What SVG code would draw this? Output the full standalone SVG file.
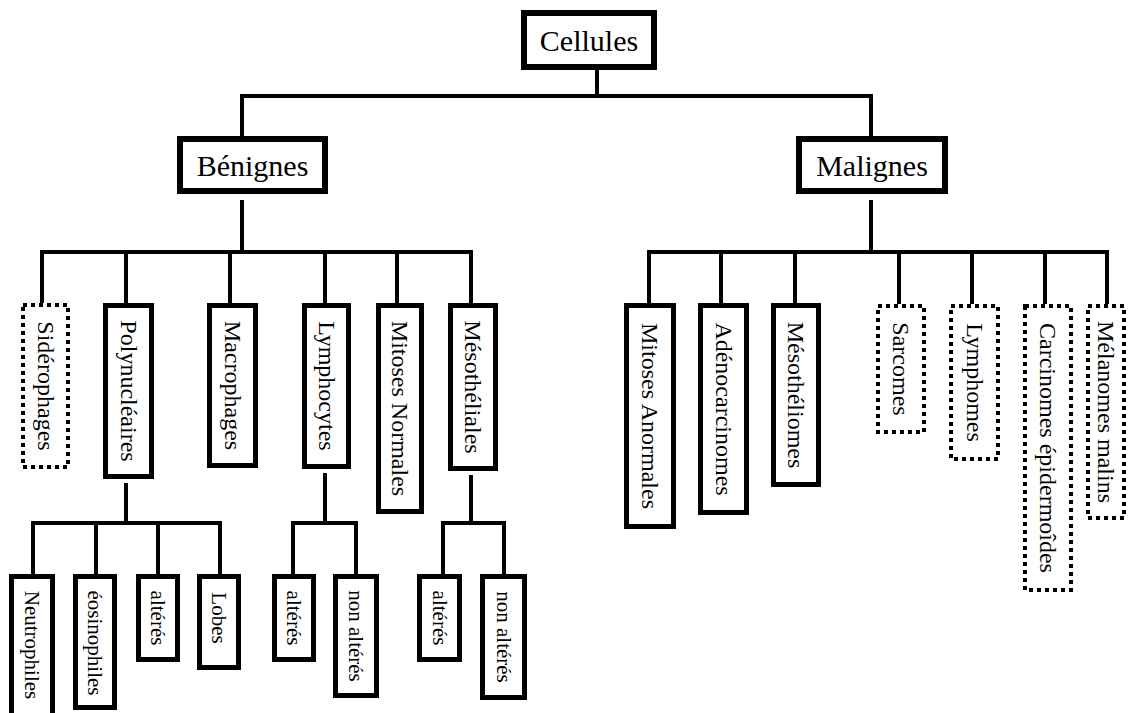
<svg xmlns="http://www.w3.org/2000/svg" width="1128" height="713" viewBox="0 0 1128 713">
<style>
.bg{fill:#fff}
.top rect{fill:#fff;stroke:#000;stroke-width:6}
.solid{fill:#fff;stroke:#000;stroke-width:5}
.dot{fill:#fff;stroke:#000;stroke-width:4;stroke-dasharray:4 4}
.t1{font-family:"Liberation Serif","Times New Roman",serif;font-size:30px;fill:#000;text-anchor:middle;dominant-baseline:central}
.t2{font-family:"Liberation Serif","Times New Roman",serif;font-size:24px;fill:#000;text-anchor:middle;dominant-baseline:central}
.t3{font-family:"Liberation Serif","Times New Roman",serif;font-size:21px;fill:#000;text-anchor:middle;dominant-baseline:central}
#connectors path{fill:none;stroke:#000;stroke-width:4;stroke-linejoin:miter;stroke-linecap:butt}
</style>
<rect class="bg" x="0" y="0" width="1128" height="713"/>
<g id="connectors">
<path d="M597,70 V96"/>
<path d="M242,136 V96 H871 V136"/>
<path d="M242,200 V252"/>
<path d="M42,303 V252 H471 V303"/>
<path d="M126,252 V303"/>
<path d="M230,252 V303"/>
<path d="M325,252 V303"/>
<path d="M397,252 V303"/>
<path d="M871,200 V252"/>
<path d="M649,304 V252 H1107 V304"/>
<path d="M721,252 V304"/>
<path d="M795,252 V304"/>
<path d="M899,252 V304"/>
<path d="M972,252 V304"/>
<path d="M1045,252 V304"/>
<path d="M126,483 V523"/>
<path d="M33,574 V523 H220 V574"/>
<path d="M96,523 V574"/>
<path d="M158,523 V574"/>
<path d="M325,473 V523"/>
<path d="M293,574 V523 H356 V574"/>
<path d="M471,475 V523"/>
<path d="M443,574 V523 H504 V574"/>
</g>
<g id="cellules" class="top"><rect x="524" y="13" width="130" height="54"/><text class="t1" x="589" y="40">Cellules</text></g>
<g id="benignes" class="top"><rect x="180" y="139" width="145" height="52"/><text class="t1" x="252.5" y="165">Bénignes</text></g>
<g id="malignes" class="top"><rect x="799" y="139" width="146" height="52"/><text class="t1" x="872" y="165">Malignes</text></g>

<g id="siderophages"><rect class="dot" x="23" y="305" width="45" height="162"/><text class="t2" transform="translate(45.5,386) rotate(90)">Sidérophages</text></g>
<g id="polynucleaires"><rect class="solid" x="105.5" y="305.5" width="46" height="171"/><text class="t2" transform="translate(128.5,391) rotate(90)">Polynucléaires</text></g>
<g id="macrophages"><rect class="solid" x="209.5" y="305.5" width="46" height="160"/><text class="t2" transform="translate(232.5,385.5) rotate(90)">Macrophages</text></g>
<g id="lymphocytes"><rect class="solid" x="304.5" y="305.5" width="44" height="161"/><text class="t2" transform="translate(326.5,386) rotate(90)">Lymphocytes</text></g>
<g id="mitoses-normales"><rect class="solid" x="378.5" y="305.5" width="43" height="206"/><text class="t2" transform="translate(400,408.5) rotate(90)">Mitoses Normales</text></g>
<g id="mesotheliales"><rect class="solid" x="450.5" y="305.5" width="45" height="163"/><text class="t2" transform="translate(473,387) rotate(90)">Mésothéliales</text></g>

<g id="mitoses-anormales"><rect class="solid" x="626.5" y="305.5" width="47" height="221"/><text class="t2" transform="translate(650,416) rotate(90)">Mitoses Anormales</text></g>
<g id="adenocarcinomes"><rect class="solid" x="700.5" y="305.5" width="46" height="207"/><text class="t2" transform="translate(723.5,409) rotate(90)">Adénocarcinomes</text></g>
<g id="mesotheliomes"><rect class="solid" x="773.5" y="305.5" width="45" height="179"/><text class="t2" transform="translate(796,395) rotate(90)">Mésothéliomes</text></g>
<g id="sarcomes"><rect class="dot" x="878" y="306" width="46" height="126"/><text class="t2" transform="translate(901,369) rotate(90)">Sarcomes</text></g>
<g id="lymphomes"><rect class="dot" x="951" y="306" width="47" height="153"/><text class="t2" transform="translate(974.5,382.5) rotate(90)">Lymphomes</text></g>
<g id="carcinomes"><rect class="dot" x="1025" y="306" width="46" height="284"/><text class="t2" transform="translate(1048,448) rotate(90)">Carcinomes épidermoîdes</text></g>
<g id="melanomes"><rect class="dot" x="1088" y="306" width="36" height="212"/><text class="t2" transform="translate(1106,412) rotate(90)">Mélanomes malins</text></g>

<g id="neutrophiles"><rect class="solid" x="11.5" y="576.5" width="41" height="140"/><text class="t3" transform="translate(32,645) rotate(90)">Neutrophiles</text></g>
<g id="eosinophiles"><rect class="solid" x="75.5" y="576.5" width="39" height="131"/><text class="t3" transform="translate(95,643) rotate(90)">éosinophiles</text></g>
<g id="alteres-poly"><rect class="solid" x="138.5" y="576.5" width="39" height="83"/><text class="t3" transform="translate(158,618) rotate(90)">altérés</text></g>
<g id="lobes"><rect class="solid" x="199.5" y="576.5" width="39" height="91"/><text class="t3" transform="translate(219,618) rotate(90)">Lobes</text></g>
<g id="alteres-lympho"><rect class="solid" x="274.5" y="576.5" width="39" height="83"/><text class="t3" transform="translate(294,618) rotate(90)">altérés</text></g>
<g id="non-alteres-lympho"><rect class="solid" x="335.5" y="576.5" width="41" height="119"/><text class="t3" transform="translate(356,636) rotate(90)">non altérés</text></g>
<g id="alteres-meso"><rect class="solid" x="419.5" y="576.5" width="40" height="83"/><text class="t3" transform="translate(439.5,618) rotate(90)">altérés</text></g>
<g id="non-alteres-meso"><rect class="solid" x="482.5" y="576.5" width="42" height="121"/><text class="t3" transform="translate(503.5,637) rotate(90)">non altérés</text></g>
</svg>
